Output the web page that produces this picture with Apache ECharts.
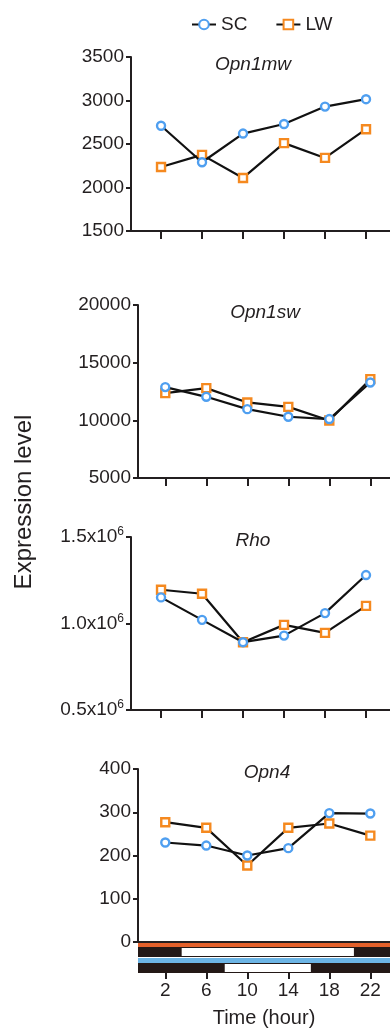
<!DOCTYPE html>
<html>
<head>
<meta charset="utf-8">
<script src="https://cdn.jsdelivr.net/npm/echarts@6/dist/echarts.min.js"></script>
<style>
html,body{margin:0;padding:0;background:#fff;}
#chart{width:390px;height:1030px;}
</style>
</head>
<body>
<div id="chart"></div>
<script>
// ---- data ----
const hours = [2, 6, 10, 14, 18, 22];
const genes = ['Opn1mw', 'Opn1sw', 'Rho', 'Opn4'];
const opn1mwSC = [2710, 2290, 2620, 2730, 2930, 3015];
const opn1mwLW = [2235, 2375, 2110, 2510, 2340, 2670];
const opn1swSC = [12880, 12040, 10970, 10310, 10110, 13280];
const opn1swLW = [12360, 12790, 11550, 11170, 9990, 13570];
const rhoSC = [1151000, 1021000, 892000, 930000, 1060000, 1280000];
const rhoLW = [1195000, 1172000, 892000, 992000, 946000, 1102000];
const opn4SC = [230, 223, 200, 217, 298, 297];
const opn4LW = [277, 264, 177, 264, 274, 246];
const yMin = [1500, 5000, 500000, 0];
const yMax = [3500, 20000, 1500000, 400];
const yStep = [500, 5000, 500000, 100];
// light phase (hours) for each housing condition
const lightLW = [3.6, 20.4];
const lightSC = [7.8, 16.2];

// ---- styles ----
const FONT = "'Liberation Sans', Arial, sans-serif";
const INK = '#231f20';
const BLUE = '#4f9ff0';
const ORANGE = '#f5891f';
const BAND_ORANGE = '#e4602a';
const BAND_BLUE = '#6cb4e4';
const BAND_DARK = '#231816';

const gridDefs = [
  {left: 131, top: 57, height: 174, right: 0, outerBoundsMode: 'none'},
  {left: 138, top: 305, height: 173, right: 0, outerBoundsMode: 'none'},
  {left: 131, top: 537, height: 173, right: 0, outerBoundsMode: 'none'},
  {left: 138, top: 769, height: 173, right: 0, outerBoundsMode: 'none'}
];
const xRange = [[-0.93, 24.34], [-0.66, 23.92], [-0.93, 24.34], [-0.66, 23.92]];
const titlePos = [[253, 65], [265, 313], [253, 541], [267, 773]];
const scData = [opn1mwSC, opn1swSC, rhoSC, opn4SC];
const lwData = [opn1mwLW, opn1swLW, rhoLW, opn4LW];

const xAxes = [];
const yAxes = [];
const series = [];
for (let i = 0; i < 4; i++) {
  xAxes.push({
    type: 'value', gridIndex: i, min: xRange[i][0], max: xRange[i][1],
    axisLine: {show: true, onZero: false, lineStyle: {color: INK, width: 2}},
    axisTick: {show: i < 3, inside: false, length: 8, lineStyle: {color: INK, width: 2}, customValues: hours},
    axisLabel: {show: false, customValues: hours},
    splitLine: {show: false}
  });
  yAxes.push({
    type: 'value', gridIndex: i, min: yMin[i], max: yMax[i], interval: yStep[i],
    axisLine: {show: true, onZero: false, lineStyle: {color: INK, width: 2}},
    axisTick: {show: true, length: 5, lineStyle: {color: INK, width: 2}},
    axisLabel: i === 2 ? {
      color: INK, fontFamily: FONT, fontSize: 19, margin: 7,
      formatter: v => '{m|' + (v / 1e6).toFixed(1) + 'x10}{s|6}',
      rich: {
        m: {fontSize: 19, color: INK, fontFamily: FONT, lineHeight: 22},
        s: {fontSize: 12, color: INK, fontFamily: FONT, verticalAlign: 'top', lineHeight: 22}
      }
    } : {color: INK, fontFamily: FONT, fontSize: 19, margin: 7, formatter: v => String(v)},
    splitLine: {show: false}
  });
  series.push({
    name: 'SC', type: 'line', xAxisIndex: i, yAxisIndex: i,
    data: hours.map((h, k) => [h, scData[i][k]]),
    symbol: 'circle', symbolSize: 8, z: 3,
    lineStyle: {color: '#111', width: 2.2},
    itemStyle: {color: '#fff', borderColor: BLUE, borderWidth: 2.4},
    emphasis: {disabled: true}, animation: false
  });
  series.push({
    name: 'LW', type: 'line', xAxisIndex: i, yAxisIndex: i,
    data: hours.map((h, k) => [h, lwData[i][k]]),
    symbol: 'rect', symbolSize: 8, z: 2,
    lineStyle: {color: '#111', width: 2.2},
    itemStyle: {color: '#fff', borderColor: ORANGE, borderWidth: 2.4},
    emphasis: {disabled: true}, animation: false
  });
}
// extra x axis for tick labels under the light/dark bars
xAxes.push({
  type: 'value', gridIndex: 3, min: xRange[3][0], max: xRange[3][1], offset: 30,
  position: 'bottom',
  axisLine: {show: false, onZero: false},
  axisTick: {show: true, length: 7, lineStyle: {color: INK, width: 2}, customValues: hours},
  axisLabel: {show: true, customValues: hours, color: INK, fontFamily: FONT, fontSize: 19, margin: 9},
  splitLine: {show: false},
  name: 'Time (hour)', nameLocation: 'middle', nameGap: 36,
  nameTextStyle: {color: INK, fontFamily: FONT, fontSize: 20}
});

// light/dark schedule bars
const schedule = [
  [0, lightLW[0], lightLW[1]],
  [1, lightSC[0], lightSC[1]]
];
series.push({
  type: 'custom', name: 'schedule', xAxisIndex: 3, yAxisIndex: 3, clip: false, silent: true,
  animation: false, z: 5,
  encode: {x: [1, 2], y: -1},
  data: schedule,
  renderItem: function (params, api) {
    const row = api.value(0);
    const cs = params.coordSys;
    const y0 = api.coord([api.value(1), 0])[1];
    const xOn = api.coord([api.value(1), 0])[0];
    const xOff = api.coord([api.value(2), 0])[0];
    const stripeTop = y0 + 1 + row * 15;
    const stripeH = row === 0 ? 4 : 5;
    const barTop = stripeTop + stripeH;
    const barH = 10;
    return {
      type: 'group',
      children: [
        {type: 'rect', shape: {x: cs.x, y: stripeTop, width: cs.width, height: stripeH},
          style: {fill: row === 0 ? BAND_ORANGE : BAND_BLUE}},
        {type: 'rect', shape: {x: cs.x, y: barTop, width: cs.width, height: barH},
          style: {fill: BAND_DARK}},
        {type: 'rect', shape: {x: xOn, y: barTop + 1, width: xOff - xOn, height: barH - 2},
          style: {fill: '#fff'}}
      ]
    };
  }
});

const graphics = genes.map((g, i) => ({
  type: 'text', x: titlePos[i][0], y: titlePos[i][1], z: 10,
  style: {text: g, fill: INK, font: 'italic 19px ' + FONT, textAlign: 'center', textVerticalAlign: 'middle'}
}));
graphics.push({
  type: 'text', x: 24, y: 502, rotation: Math.PI / 2, z: 10,
  style: {text: 'Expression level', fill: INK, font: '24px ' + FONT, textAlign: 'center', textVerticalAlign: 'middle'}
});

const chart = echarts.init(document.getElementById('chart'), null, {renderer: 'canvas'});
chart.setOption({
  animation: false,
  backgroundColor: '#fff',
  legend: {
    data: ['SC', 'LW'], left: 186, top: 10, itemWidth: 24, itemHeight: 12, itemGap: 28,
    textStyle: {color: INK, fontFamily: FONT, fontSize: 19}, selectedMode: false
  },
  grid: gridDefs,
  xAxis: xAxes,
  yAxis: yAxes,
  series: series,
  graphic: graphics
});
</script>
</body>
</html>
